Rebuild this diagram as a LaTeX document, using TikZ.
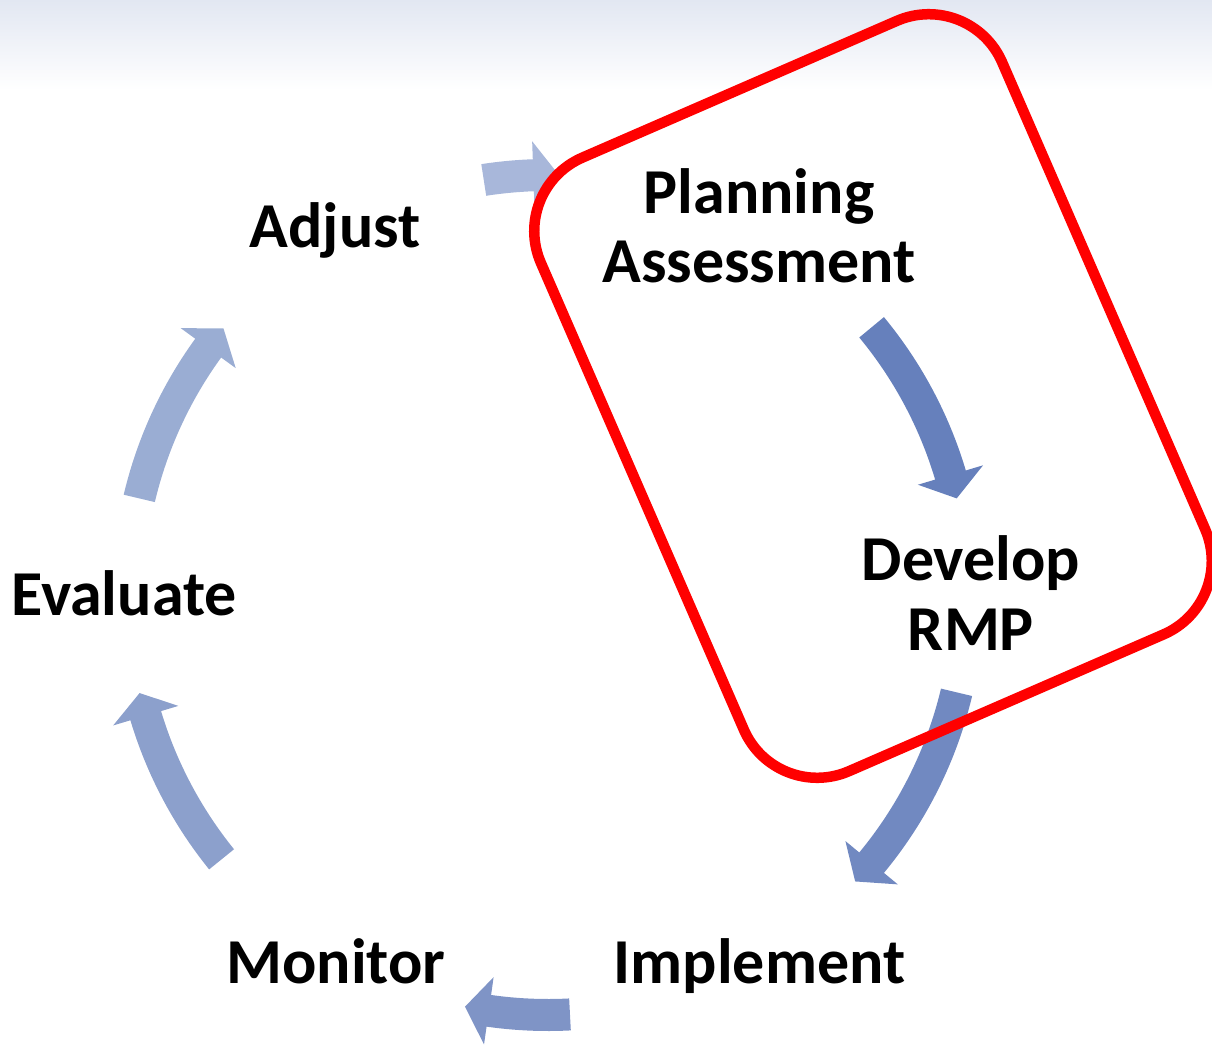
\documentclass[tikz,border=0pt]{standalone}
\usepackage{fontspec}
\setmainfont{Carlito}
\definecolor{bgtop}{RGB}{226,231,242}
\definecolor{arA}{RGB}{168,183,218}
\definecolor{arB}{RGB}{102,128,188}
\definecolor{arC}{RGB}{113,137,193}
\definecolor{arD}{RGB}{127,148,198}
\definecolor{arE}{RGB}{140,160,204}
\definecolor{arF}{RGB}{154,173,211}
\definecolor{framered}{RGB}{255,0,0}
% #1 colour, #2 tail angle, #3 head-base angle, #4 tip angle
\newcommand{\cycarrow}[4]{%
  \fill[#1] (#2:436pt) arc[start angle=#2, end angle=#3, radius=436pt]
    -- (#3:454pt) -- (#4:420pt) -- (#3:386pt) -- (#3:404pt)
    arc[start angle=#3, end angle=#2, radius=404pt] -- cycle;}
\begin{document}
\begin{tikzpicture}[x=1pt,y=1pt,
  lbl/.style={font=\fontsize{64}{70}\selectfont\bfseries, align=center, inner sep=0pt, text=black},
  focusbox/.style={draw=framered, line width=10.5pt, rounded corners=80pt, inner sep=0pt}]
\useasboundingbox (-548,-450) rectangle (664,595);
\shade[top color=bgtop, bottom color=white] (-548,595) rectangle (664,505);
% cycle arrows
\cycarrow{arA}{98.8}{92}{88.5}
\cycarrow{arB}{39.6}{16.6}{13.3}
\cycarrow{arC}{-13.4}{-39.6}{-43}
\cycarrow{arD}{-87}{-98.1}{-101.4}
\cycarrow{arE}{-141}{-163.3}{-166.5}
\cycarrow{arF}{166.7}{144}{140.6}
% labels
\node[lbl] (plan) at (211,361) {\strut Planning\\\strut Assessment};
\node[lbl] (dev) at (423,-6) {\strut Develop\\\strut RMP};
\node[lbl] (impl) at (211.5,-374) {\strut Implement};
\node[lbl] (mon) at (-212,-374) {\strut Monitor};
\node[lbl] (eval) at (-424,-6) {\strut Evaluate};
\node[lbl] (adj) at (-213,361) {\strut Adjust};
% highlight frame
\node[focusbox, minimum width=503pt, minimum height=669pt, rotate=23.5] (focus) at (325,199) {};
\end{tikzpicture}
\end{document}
